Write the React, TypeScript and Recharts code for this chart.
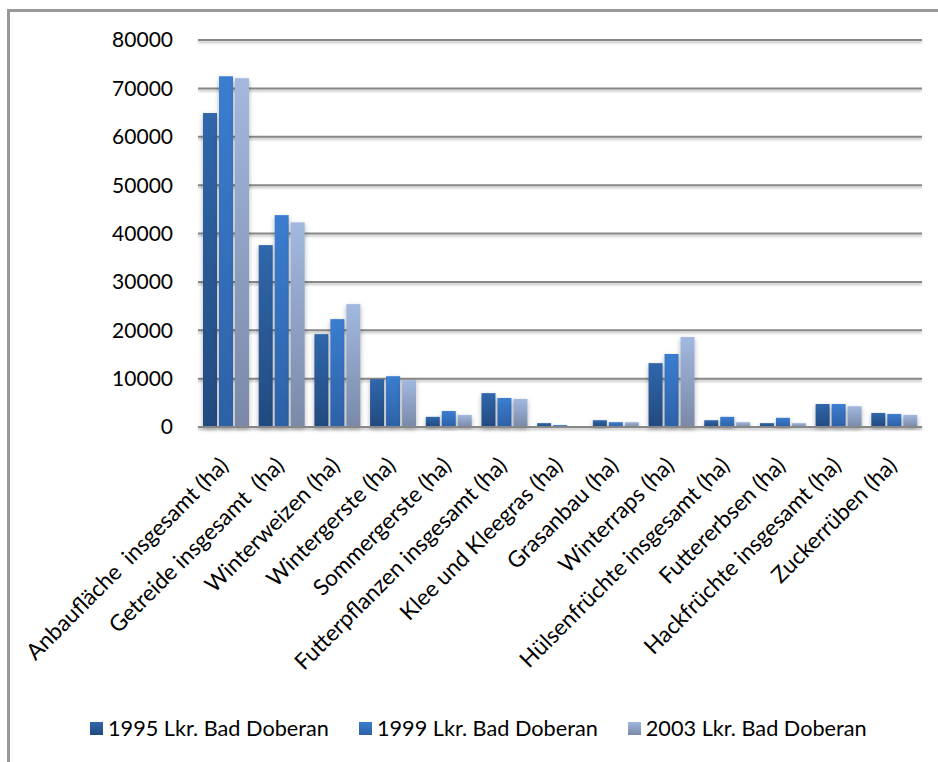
import { Bar, BarChart, CartesianGrid, Legend, XAxis, YAxis } from "recharts";

const categories = [
  "Anbaufläche  insgesamt (ha)",
  "Getreide insgesamt  (ha)",
  "Winterweizen (ha)",
  "Wintergerste (ha)",
  "Sommergerste (ha)",
  "Futterpflanzen insgesamt (ha)",
  "Klee und Kleegras (ha)",
  "Grasanbau (ha)",
  "Winterraps (ha)",
  "Hülsenfrüchte insgesamt (ha)",
  "Futtererbsen (ha)",
  "Hackfrüchte insgesamt (ha)",
  "Zuckerrüben (ha)",
];

const values1995 = [64900, 37600, 19200, 9900, 2100, 7000, 800, 1400, 13200, 1400, 800, 4750, 2900];
const values1999 = [72500, 43800, 22300, 10500, 3300, 6000, 400, 1000, 15100, 2100, 1900, 4750, 2700];
const values2003 = [72100, 42300, 25400, 9700, 2500, 5800, 100, 1000, 18600, 1000, 800, 4300, 2500];

const yTicks = [0, 10000, 20000, 30000, 40000, 50000, 60000, 70000, 80000];

const series = [
  { key: "y1995", name: "1995 Lkr. Bad Doberan", top: "#3067ab", bottom: "#234a7f" },
  { key: "y1999", name: "1999 Lkr. Bad Doberan", top: "#3b7dd0", bottom: "#2d61a6" },
  { key: "y2003", name: "2003 Lkr. Bad Doberan", top: "#a2b8df", bottom: "#7a89a7" },
];

const FONT = "Lato, 'Liberation Sans', sans-serif";

const data = categories.map((name, i) => ({
  name,
  y1995: values1995[i],
  y1999: values1999[i],
  y2003: values2003[i],
}));

function CategoryTick({ x, y, payload }: any) {
  return (
    <g transform={`translate(${x + 4},${y + 38})`}>
      <text
        textAnchor="end"
        transform="rotate(-45)"
        fontSize={22.5}
        fontFamily={FONT}
        fill="#000"
        style={{ whiteSpace: "pre" }}
      >
        {payload.value}
      </text>
    </g>
  );
}

function GridLine(props: any) {
  const { x1, y1, x2, y2, index } = props;
  return (
    <line
      key={`grid-${index}`}
      x1={x1}
      y1={y1}
      x2={x2}
      y2={y2}
      stroke="#878787"
      strokeWidth={2}
      filter="url(#lineShadow)"
    />
  );
}

function makeShape(id: string) {
  return (p: any) => (
    <rect
      x={p.x}
      y={p.y}
      width={p.width}
      height={p.height}
      fill={`url(#grad-${id})`}
      filter="url(#barShadow)"
    />
  );
}

function LegendContent() {
  return (
    <div
      style={{
        display: "flex",
        alignItems: "center",
        height: 58,
        marginBottom: 5,
        paddingLeft: 90,
        fontFamily: FONT,
        fontSize: 21.7,
        color: "#000",
      }}
    >
      {series.map((s) => (
        <div key={s.key} style={{ display: "flex", alignItems: "center", marginRight: 30 }}>
          <span
            style={{
              display: "inline-block",
              width: 13,
              height: 13,
              marginRight: 5,
              background: `linear-gradient(${s.top}, ${s.bottom})`,
            }}
          />
          <span>{s.name}</span>
        </div>
      ))}
    </div>
  );
}

export default function App() {
  return (
    <div
      style={{
        position: "absolute",
        left: 0,
        top: 0,
        width: 938,
        height: 762,
        background: "#fff",
        overflow: "hidden",
      }}
    >
      <div
        style={{
          position: "absolute",
          left: 7,
          top: 9,
          width: 1000,
          height: 1000,
          border: "3px solid #999",
          boxSizing: "border-box",
        }}
      />
      <BarChart
        width={938}
        height={762}
        data={data}
        barSize={14}
        barGap={2}
        margin={{ top: 40, right: 16, bottom: 0, left: 0 }}
        style={{ position: "absolute", left: 0, top: 0 }}
      >
        <defs>
          {series.map((s) => (
            <linearGradient key={s.key} id={`grad-${s.key}`} x1="0" y1="0" x2="0" y2="1">
              <stop offset="0%" stopColor={s.top} />
              <stop offset="100%" stopColor={s.bottom} />
            </linearGradient>
          ))}
          <filter id="barShadow" x="-40%" y="-10%" width="180%" height="130%">
            <feDropShadow dx="0" dy="2" stdDeviation="2.5" floodColor="#000" floodOpacity="0.3" />
          </filter>
          <filter
            id="lineShadow"
            filterUnits="userSpaceOnUse"
            x="0"
            y="0"
            width="938"
            height="762"
          >
            <feDropShadow dx="0" dy="2" stdDeviation="1.2" floodColor="#000" floodOpacity="0.25" />
          </filter>
        </defs>
        <CartesianGrid vertical={false} horizontal={GridLine} />
        <XAxis
          dataKey="name"
          interval={0}
          height={272}
          tickSize={0}
          tickLine={false}
          axisLine={{ stroke: "#878787", strokeWidth: 2 }}
          tick={CategoryTick}
        />
        <YAxis
          width={198}
          domain={[0, 80000]}
          ticks={yTicks}
          tickSize={0}
          tickMargin={25}
          tickLine={false}
          axisLine={false}
          tick={{ fontSize: 21, fontFamily: FONT, fill: "#000" }}
        />
        <Legend verticalAlign="bottom" height={63} content={LegendContent} />
        {series.map((s) => (
          <Bar
            key={s.key}
            dataKey={s.key}
            name={s.name}
            fill={s.top}
            shape={makeShape(s.key)}
            isAnimationActive={false}
          />
        ))}
      </BarChart>
    </div>
  );
}
